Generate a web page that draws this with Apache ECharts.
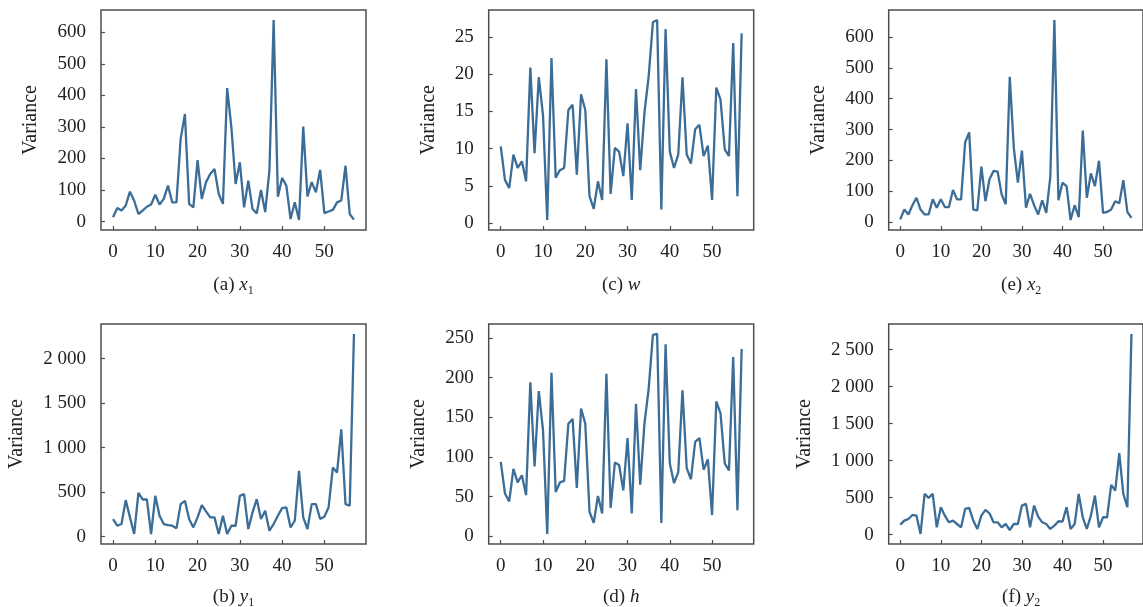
<!DOCTYPE html>
<html>
<head>
<meta charset="utf-8">
<script src="https://cdn.jsdelivr.net/npm/echarts@6/dist/echarts.min.js"></script>
<style>
  html, body { margin: 0; padding: 0; background: #fff; }
  #main { width: 1143px; height: 607px; }
</style>
</head>
<body>
<div id="main"></div>
<script>
// 采样序号 0..57
const steps = Array.from({ length: 58 }, (_, i) => i)

// 各子图方差数据
const x1Var = [14, 43, 35, 51, 95, 66, 24, 35, 47, 54, 85, 54, 72, 114, 61, 61, 262, 341, 56, 45,
  195, 72, 125, 151, 167, 88, 56, 423, 299, 119, 188, 45, 130, 40, 26, 100, 30, 162, 639, 79,
  138, 114, 8, 61, 5, 301, 80, 125, 93, 164, 27, 32, 37, 61, 67, 177, 24, 6]
const y1Var = [198, 123, 142, 411, 217, 30, 493, 418, 418, 30, 459, 235, 142, 131, 123, 93, 366, 403, 198, 104,
  217, 355, 284, 217, 217, 30, 235, 30, 123, 123, 459, 478, 86, 273, 422, 198, 291, 67, 142, 235,
  321, 329, 104, 179, 739, 217, 86, 366, 366, 198, 224, 329, 777, 721, 1206, 366, 347, 2278]
const wVar = [10.3, 5.8, 4.7, 9.2, 7.4, 8.3, 5.6, 20.9, 9.4, 19.6, 14.5, 0.4, 22.2, 6.1, 7.1, 7.4, 15.2, 15.9, 6.5, 17.3,
  15.2, 3.6, 1.9, 5.6, 3.1, 22.0, 3.9, 10.1, 9.6, 6.3, 13.4, 3.1, 18.0, 7.1, 14.8, 19.7, 27.0, 27.3, 1.8, 26.1,
  9.6, 7.4, 9.2, 19.6, 9.2, 8.0, 12.6, 13.2, 9.0, 10.4, 3.1, 18.2, 16.6, 9.9, 9.0, 24.2, 3.6, 25.5]
const hVar = [94, 54, 44, 85, 68, 77, 52, 194, 88, 183, 134, 3, 206, 56, 68, 70, 142, 148, 61, 161,
  142, 31, 17, 51, 29, 205, 36, 93, 90, 58, 124, 29, 167, 65, 142, 186, 254, 255, 17, 242,
  92, 67, 81, 184, 86, 72, 119, 124, 84, 97, 27, 170, 155, 92, 83, 226, 33, 236]
const x2Var = [9, 41, 25, 55, 79, 41, 25, 25, 74, 47, 74, 49, 49, 104, 74, 74, 259, 291, 41, 38,
  180, 68, 139, 166, 164, 90, 58, 471, 240, 128, 232, 47, 92, 55, 25, 71, 30, 147, 655, 71,
  128, 117, 7, 55, 16, 297, 79, 158, 117, 199, 30, 33, 41, 68, 61, 136, 33, 14]
const y2Var = [135, 190, 212, 266, 257, 9, 550, 496, 550, 99, 370, 257, 167, 190, 144, 99, 347, 361, 190, 77,
  257, 334, 289, 167, 167, 99, 144, 63, 144, 144, 393, 415, 99, 393, 244, 167, 144, 77, 122, 181,
  176, 370, 77, 144, 550, 235, 77, 257, 528, 99, 235, 235, 672, 596, 1101, 550, 370, 2710]

// 刻度
const xTicks = [0, 10, 20, 30, 40, 50]
const x1Ticks = [0, 100, 200, 300, 400, 500, 600]
const y1Ticks = [0, 500, 1000, 1500, 2000]
const wTicks = [0, 5, 10, 15, 20, 25]
const hTicks = [0, 50, 100, 150, 200, 250]
const x2Ticks = [0, 100, 200, 300, 400, 500, 600]
const y2Ticks = [0, 500, 1000, 1500, 2000, 2500]

// 子图标题
const captions = [
  ['(a) ', 'x', '1'], ['(b) ', 'y', '1'],
  ['(c) ', 'w', ''], ['(d) ', 'h', ''],
  ['(e) ', 'x', '2'], ['(f) ', 'y', '2']
]

const FONT = 'Liberation Serif'
const LINE = '#3b6d97'
const FRAME = '#4d4d4d'

// 面板布局: a b / c d / e f（按列）
const panels = [
  { data: x1Var, ticks: x1Ticks, left: 101, top: 10, gap: 60, cap: 273 },
  { data: y1Var, ticks: y1Ticks, left: 101, top: 324, gap: 74, cap: 585 },
  { data: wVar, ticks: wTicks, left: 488.7, top: 10, gap: 50, cap: 273 },
  { data: hVar, ticks: hTicks, left: 488.7, top: 324, gap: 60, cap: 585 },
  { data: x2Var, ticks: x2Ticks, left: 888.7, top: 10, gap: 60, cap: 273 },
  { data: y2Var, ticks: y2Ticks, left: 888.7, top: 324, gap: 74, cap: 585 }
]
const W = 265
const H = 220

const fmt = v => {
  if (Math.abs(v) >= 1000) {
    const s = String(Math.round(v))
    return s.slice(0, s.length - 3) + ' ' + s.slice(-3)
  }
  return String(v)
}

const grids = [], xAxes = [], yAxes = [], series = [], titles = []
panels.forEach((p, k) => {
  const lo = Math.min(...p.data), hi = Math.max(...p.data)
  const pad = (hi - lo) * 0.05
  grids.push({
    left: p.left, top: p.top, width: W, height: H,
    show: true, borderColor: FRAME, borderWidth: 1.5, containLabel: false
  })
  xAxes.push({
    type: 'value', gridIndex: k, min: -2.85, max: 59.85,
    splitLine: { show: false },
    axisLine: { show: false, onZero: false },
    axisTick: { inside: true, length: 4, lineStyle: { color: FRAME, width: 1.2 }, customValues: xTicks },
    axisLabel: { customValues: xTicks, margin: 13, color: '#222', fontFamily: FONT, fontSize: 19 }
  })
  yAxes.push({
    type: 'value', gridIndex: k, min: lo - pad, max: hi + pad,
    name: 'Variance', nameLocation: 'middle', nameGap: p.gap,
    nameTextStyle: { color: '#222', fontFamily: FONT, fontSize: 20 },
    splitLine: { show: false },
    axisLine: { show: false, onZero: false },
    axisTick: { inside: true, length: 4, lineStyle: { color: FRAME, width: 1.2 }, customValues: p.ticks },
    axisLabel: { customValues: p.ticks, margin: 15, color: '#222', fontFamily: FONT, fontSize: 19, formatter: fmt }
  })
  series.push({
    type: 'line', xAxisIndex: k, yAxisIndex: k,
    data: steps.map(i => [i, p.data[i]]),
    showSymbol: false, clip: true,
    lineStyle: { color: LINE, width: 2.3 },
    itemStyle: { color: LINE }
  })
  const c = captions[k]
  const base = { fontFamily: FONT, fontWeight: 'normal', color: '#222' }
  titles.push({
    text: '{n|' + c[0] + '}{i|' + c[1] + '}' + (c[2] ? '{s|' + c[2] + '}' : ''),
    left: p.left + W / 2, top: p.cap, textAlign: 'center', padding: 0,
    textStyle: {
      fontWeight: 'normal',
      rich: {
        n: Object.assign({ fontSize: 19, lineHeight: 24, verticalAlign: 'middle' }, base),
        i: Object.assign({ fontSize: 19, fontStyle: 'italic', lineHeight: 24, verticalAlign: 'middle' }, base),
        s: Object.assign({ fontSize: 12, lineHeight: 12, verticalAlign: 'bottom' }, base)
      }
    }
  })
})

const chart = echarts.init(document.getElementById('main'), null, { renderer: 'canvas' })
chart.setOption({
  animation: false,
  backgroundColor: '#fff',
  title: titles,
  grid: grids,
  xAxis: xAxes,
  yAxis: yAxes,
  series: series
})
</script>
</body>
</html>
